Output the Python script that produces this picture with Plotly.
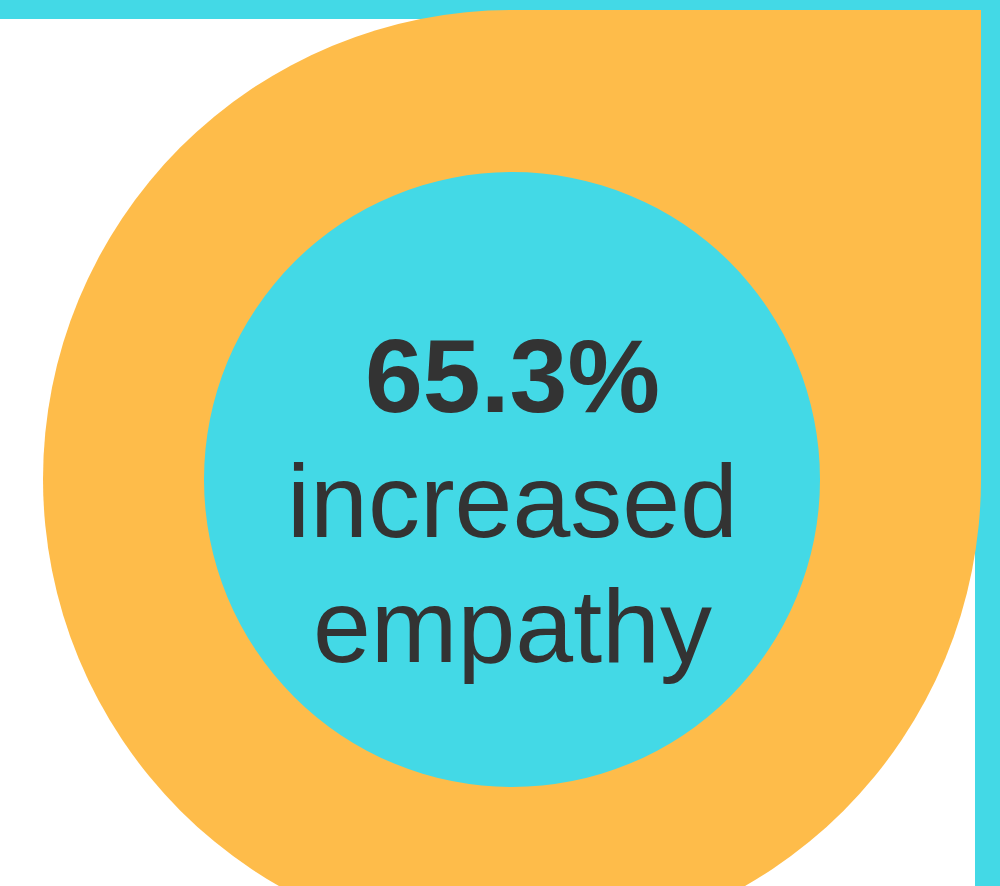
import plotly.graph_objects as go

# data
stat_values = [65.3]
stat_labels = ["increased empathy"]
label_lines = ["increased", "empathy"]

CYAN = "#43D9E6"
ORANGE = "#FEBC4A"
TEXT = "#333333"

W, H = 1000, 886

fig = go.Figure()
# invisible trace to establish axes
fig.add_trace(go.Scatter(x=[0, W], y=[0, H], mode="markers",
                         marker=dict(opacity=0), hoverinfo="skip", showlegend=False))

shapes = [
    dict(type="rect", x0=0, x1=1000, y0=0, y1=19, fillcolor=CYAN, line=dict(width=0), layer="below"),
    dict(type="rect", x0=975, x1=1000, y0=0, y1=886, fillcolor=CYAN, line=dict(width=0), layer="below"),
    dict(type="circle", x0=43, x1=981, y0=10, y1=948, fillcolor=ORANGE, line=dict(width=0), layer="below"),
    dict(type="rect", x0=512, x1=981, y0=10, y1=479, fillcolor=ORANGE, line=dict(width=0), layer="below"),
    dict(type="circle", x0=204, x1=820, y0=172, y1=787, fillcolor=CYAN, line=dict(width=0), layer="below"),
]

font_fam = "Liberation Sans, Arial, sans-serif"
annotations = [
    dict(x=512, y=376, text="<b>%.1f%%</b>" % stat_values[0], showarrow=False,
         font=dict(family=font_fam, size=104, color=TEXT), xanchor="center", yanchor="middle"),
    dict(x=512, y=501, text=label_lines[0], showarrow=False,
         font=dict(family=font_fam, size=104, color=TEXT), xanchor="center", yanchor="middle"),
    dict(x=512, y=626, text=label_lines[1], showarrow=False,
         font=dict(family=font_fam, size=104, color=TEXT), xanchor="center", yanchor="middle"),
]

fig.update_layout(
    width=W, height=H, margin=dict(l=0, r=0, t=0, b=0),
    paper_bgcolor="white", plot_bgcolor="white",
    xaxis=dict(range=[0, W], visible=False, fixedrange=True),
    yaxis=dict(range=[H, 0], visible=False, fixedrange=True),
    shapes=shapes, annotations=annotations, showlegend=False,
)

fig.write_html("out.html", config={"displayModeBar": False},
               post_script="document.body.style.margin='0';document.body.style.overflow='hidden';")
